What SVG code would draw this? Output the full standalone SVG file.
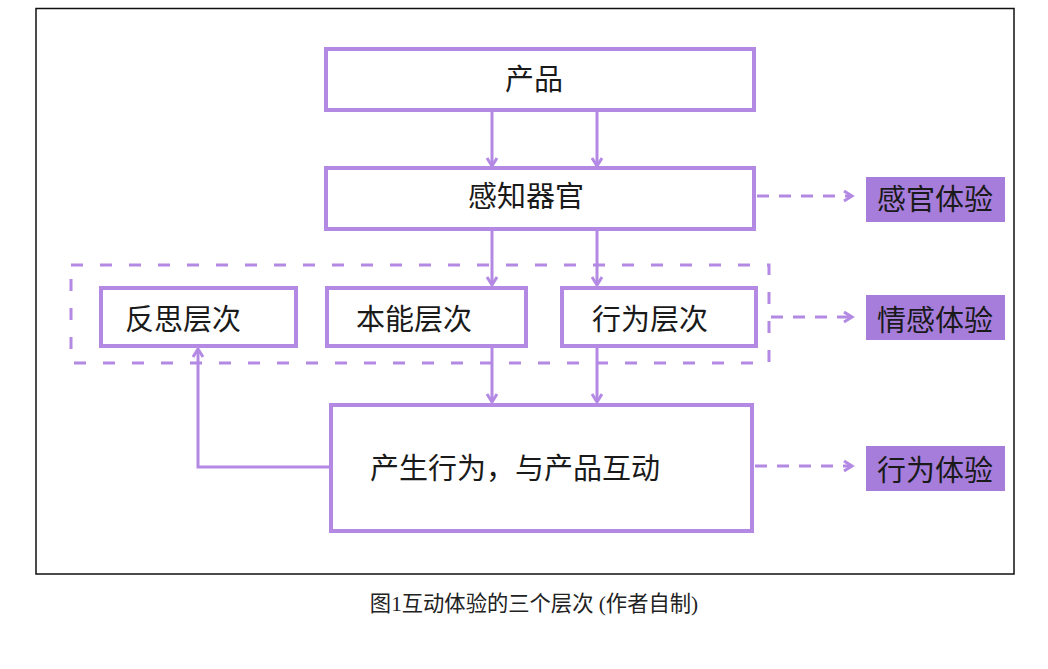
<svg xmlns="http://www.w3.org/2000/svg" width="1048" height="669" viewBox="0 0 1048 669">
<style>
.box{fill:#fff;stroke:#B389E4;stroke-width:4}
.lbl{fill:#A77DDC}
.t{font-family:"Noto Sans CJK SC","Noto Sans",sans-serif;font-size:29px;fill:#1a1a1a}
.c{stroke:#B389E4;stroke-width:3;fill:none}
.d{stroke:#B389E4;stroke-width:3;fill:none;stroke-dasharray:12 10}
.dc{stroke:#B389E4;stroke-width:3;fill:none;stroke-dasharray:12 17}
.cap{font-family:"Liberation Serif","Noto Sans CJK SC",serif;font-size:21.3px;fill:#222}
</style>
<defs>
<marker id="ah" markerUnits="userSpaceOnUse" markerWidth="16" markerHeight="16" refX="10" refY="6" orient="auto">
<path d="M2,1 L10,6 L2,11" fill="none" stroke="#B389E4" stroke-width="3"/>
</marker>
</defs>
<rect x="0" y="0" width="1048" height="669" fill="#fff"/>
<rect x="36" y="8.5" width="978" height="565.5" fill="#fff" stroke="#111" stroke-width="1.5"/>
<g id="container">
<rect class="dc" x="71" y="265" width="698" height="98"/>
</g>
<g id="connectors">
<line class="c" x1="492" y1="111" x2="492" y2="166" marker-end="url(#ah)"/>
<line class="c" x1="597" y1="111" x2="597" y2="166" marker-end="url(#ah)"/>
<line class="c" x1="492" y1="230" x2="492" y2="285" marker-end="url(#ah)"/>
<line class="c" x1="597" y1="230" x2="597" y2="285" marker-end="url(#ah)"/>
<line class="c" x1="492" y1="348" x2="492" y2="402" marker-end="url(#ah)"/>
<line class="c" x1="597" y1="348" x2="597" y2="402" marker-end="url(#ah)"/>
<polyline class="c" points="330,467 198,467 198,349" marker-end="url(#ah)"/>
<line class="d" x1="757" y1="196" x2="852" y2="196" marker-end="url(#ah)"/>
<line class="d" x1="771" y1="317" x2="852" y2="317" marker-end="url(#ah)"/>
<line class="d" x1="755" y1="466" x2="852" y2="466" marker-end="url(#ah)"/>
</g>
<g id="product">
<rect class="box" x="326" y="49" width="428" height="61"/>
<text class="t" x="505" y="90">产品</text>
</g>
<g id="senses">
<rect class="box" x="326" y="168" width="428" height="61"/>
<text class="t" x="468" y="207">感知器官</text>
</g>
<g id="reflective">
<rect class="box" x="101" y="288" width="195" height="58"/>
<text class="t" x="125" y="330">反思层次</text>
</g>
<g id="visceral">
<rect class="box" x="327" y="288" width="199" height="58"/>
<text class="t" x="356" y="330">本能层次</text>
</g>
<g id="behavioral">
<rect class="box" x="562" y="288" width="194" height="58"/>
<text class="t" x="592" y="330">行为层次</text>
</g>
<g id="interact">
<rect class="box" x="331" y="405" width="421" height="126"/>
<text class="t" x="370" y="479">产生行为，与产品互动</text>
</g>
<g id="sensory-exp">
<rect class="lbl" x="866" y="177" width="139" height="45"/>
<text class="t" x="877" y="210">感官体验</text>
</g>
<g id="emotion-exp">
<rect class="lbl" x="866" y="295" width="139" height="45"/>
<text class="t" x="877" y="331">情感体验</text>
</g>
<g id="behavior-exp">
<rect class="lbl" x="866" y="446" width="139" height="45"/>
<text class="t" x="877" y="481">行为体验</text>
</g>
<text class="cap" x="534" y="611" text-anchor="middle">图1互动体验的三个层次 (作者自制)</text>
</svg>
